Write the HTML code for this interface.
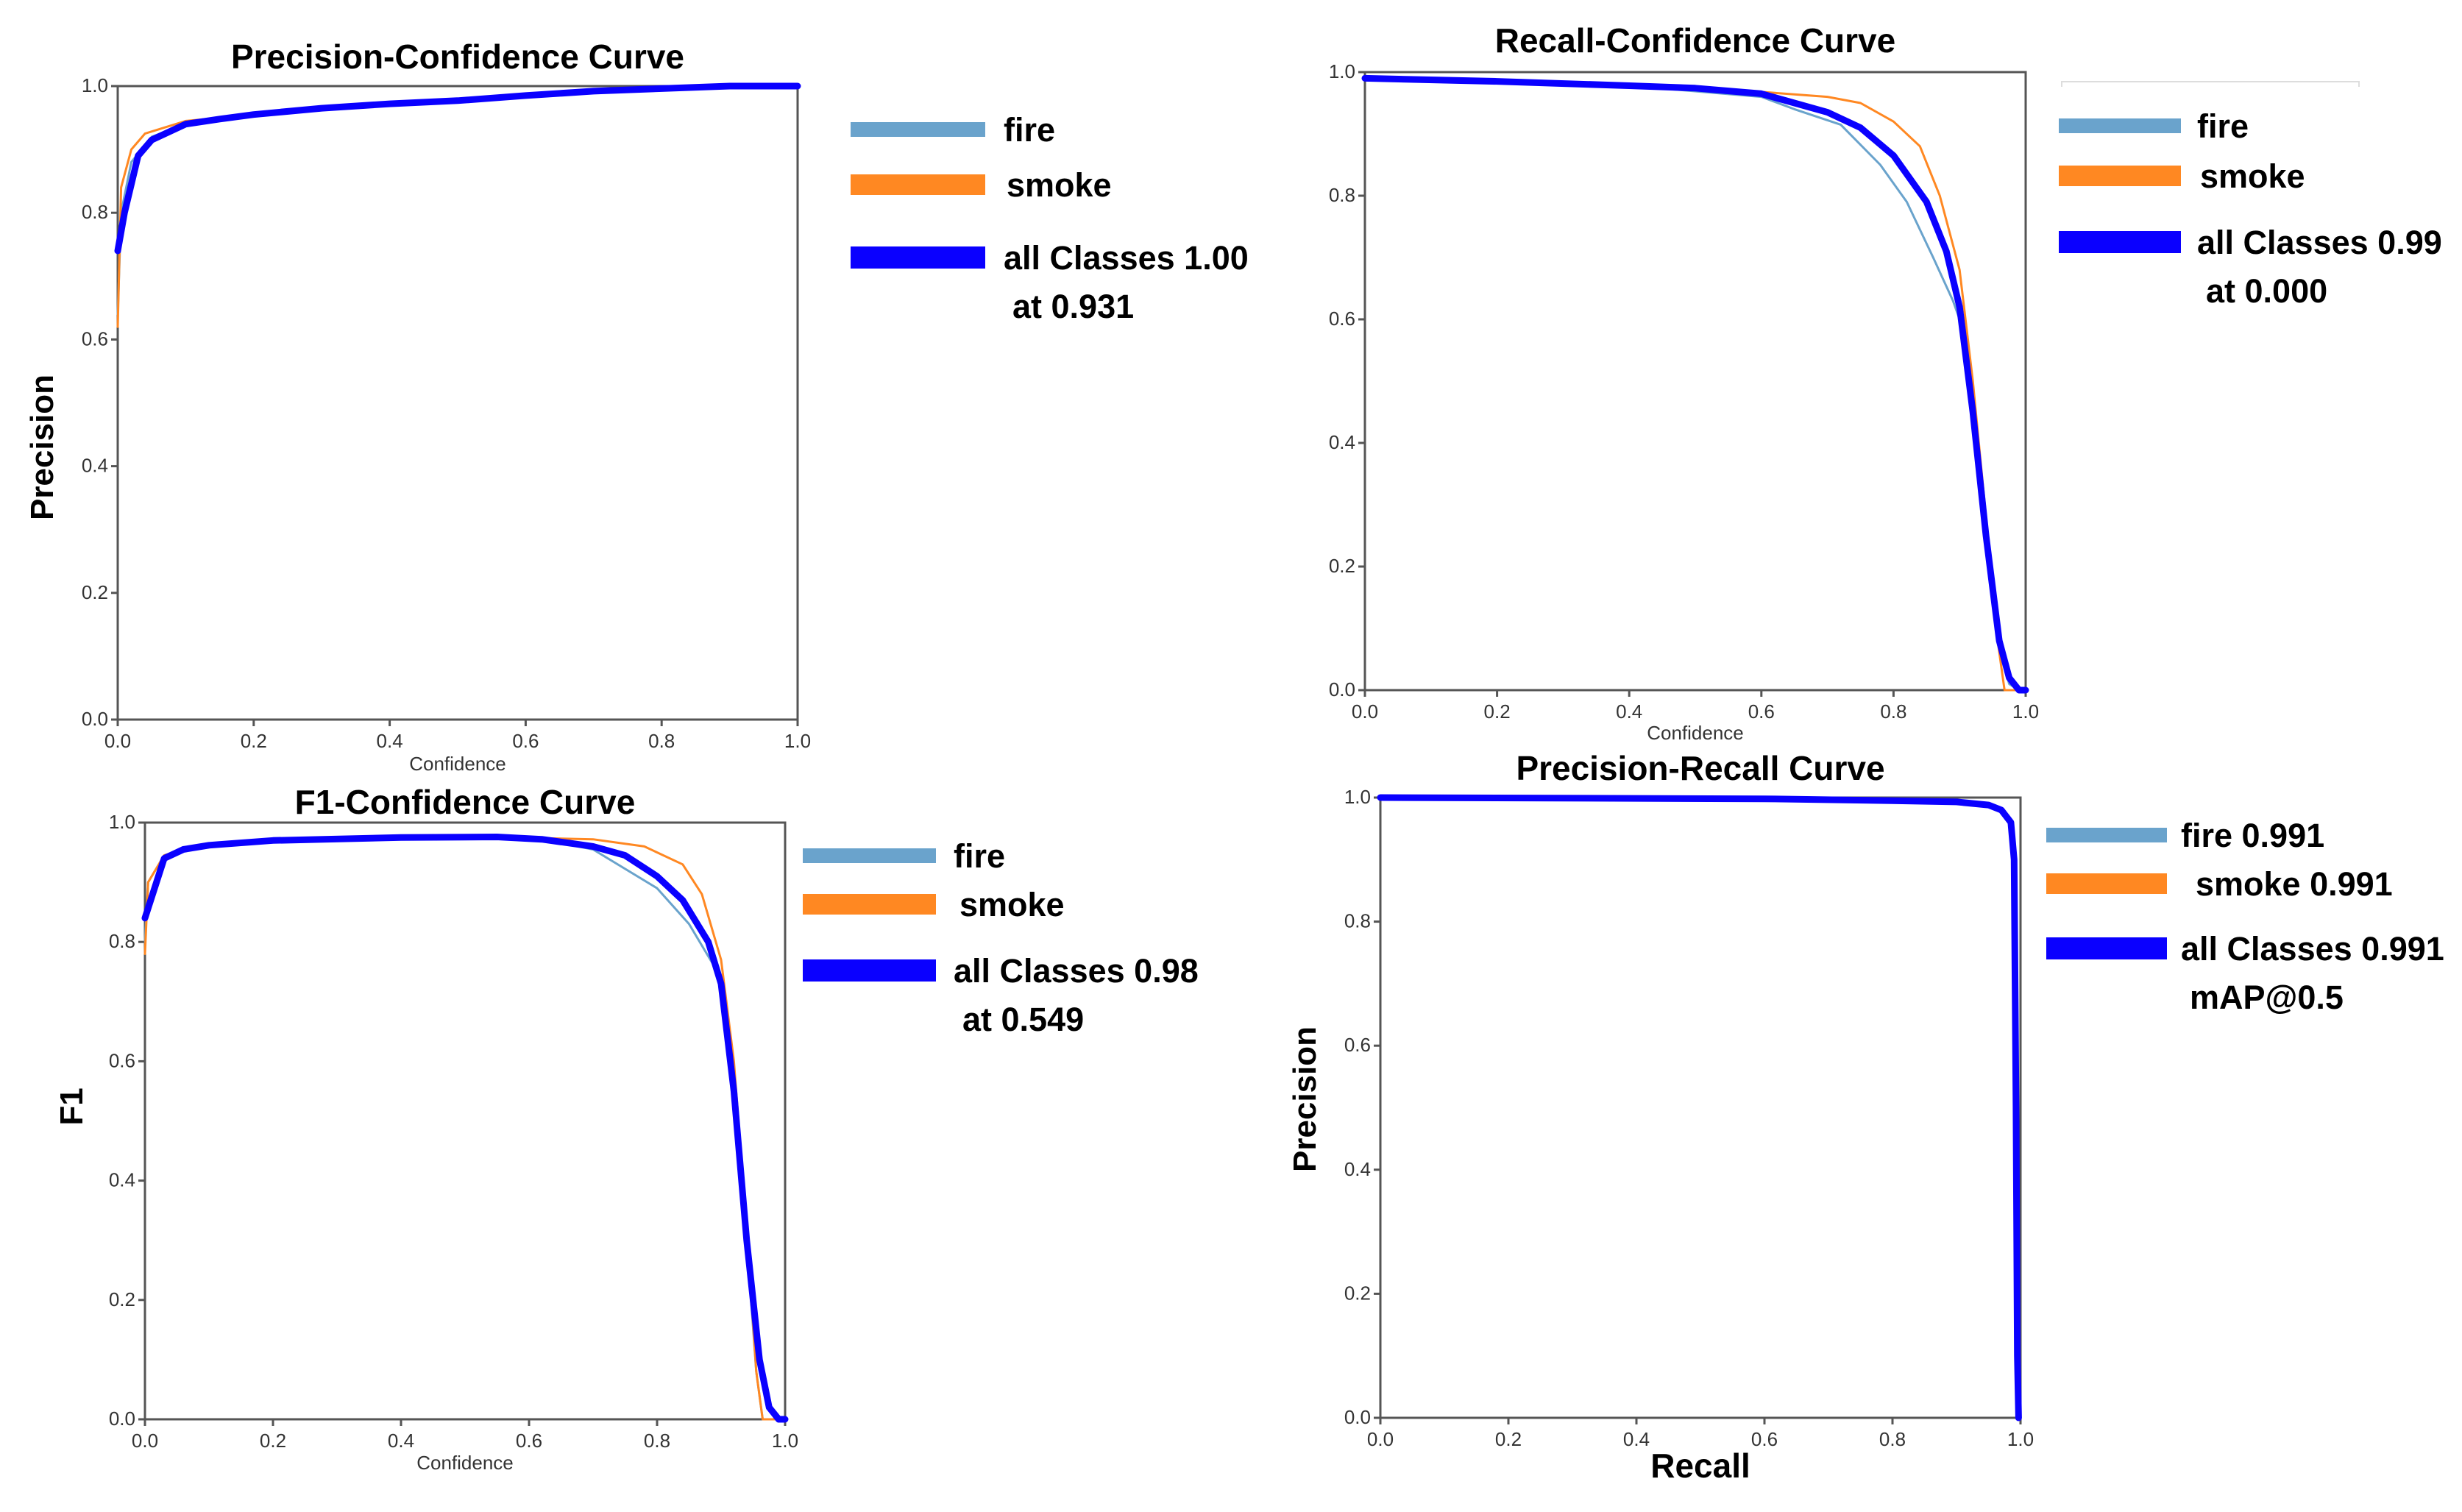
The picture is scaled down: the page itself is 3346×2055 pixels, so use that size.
<!DOCTYPE html>
<html><head><meta charset="utf-8"><style>
html,body{margin:0;padding:0;background:#fff;}
svg{display:block;}
text{font-family:"Liberation Sans Narrow","Liberation Sans",sans-serif;}
</style></head><body>
<svg id="root" width="3346" height="2055" viewBox="0 0 3346 2055" xmlns="http://www.w3.org/2000/svg"></svg>
<script>
// ---- data ----
const tickValues = [0, 0.2, 0.4, 0.6, 0.8, 1.0];
const tickLabels = ["0.0", "0.2", "0.4", "0.6", "0.8", "1.0"];

const pcFireX = [0, 0.005, 0.02, 0.05, 0.1, 0.15, 0.2, 0.3, 0.4, 0.5, 0.6, 0.7, 0.8, 0.9, 1.0];
const pcFireY = [0.64, 0.8, 0.88, 0.92, 0.94, 0.949, 0.955, 0.965, 0.972, 0.977, 0.985, 0.992, 0.996, 1.0, 1.0];
const pcSmokeX = [0, 0.005, 0.02, 0.04, 0.1, 0.15, 0.2, 0.3, 0.4, 0.5, 0.6, 0.7, 0.8, 0.9, 1.0];
const pcSmokeY = [0.62, 0.84, 0.9, 0.925, 0.945, 0.95, 0.956, 0.966, 0.972, 0.977, 0.985, 0.992, 0.996, 1.0, 1.0];
const pcAllX = [0, 0.01, 0.03, 0.05, 0.1, 0.15, 0.2, 0.3, 0.4, 0.5, 0.6, 0.7, 0.8, 0.9, 1.0];
const pcAllY = [0.74, 0.8, 0.89, 0.915, 0.94, 0.948, 0.955, 0.965, 0.972, 0.977, 0.985, 0.992, 0.996, 1.0, 1.0];

const rcFireX = [0, 0.2, 0.4, 0.6, 0.65, 0.72, 0.78, 0.82, 0.86, 0.89, 0.9, 0.92, 0.94, 0.96, 0.975, 0.99, 1.0];
const rcFireY = [0.99, 0.985, 0.978, 0.96, 0.94, 0.915, 0.85, 0.79, 0.7, 0.63, 0.6, 0.45, 0.25, 0.07, 0.01, 0, 0];
const rcSmokeX = [0, 0.2, 0.4, 0.6, 0.7, 0.75, 0.8, 0.84, 0.87, 0.9, 0.92, 0.94, 0.955, 0.968, 1.0];
const rcSmokeY = [0.99, 0.985, 0.978, 0.968, 0.96, 0.95, 0.92, 0.88, 0.8, 0.68, 0.5, 0.28, 0.1, 0, 0];
const rcAllX = [0, 0.2, 0.4, 0.5, 0.6, 0.7, 0.75, 0.8, 0.85, 0.88, 0.9, 0.92, 0.94, 0.96, 0.975, 0.99, 1.0];
const rcAllY = [0.99, 0.985, 0.978, 0.974, 0.965, 0.935, 0.91, 0.865, 0.79, 0.71, 0.62, 0.45, 0.25, 0.08, 0.02, 0, 0];

const f1FireX = [0, 0.005, 0.03, 0.06, 0.1, 0.2, 0.4, 0.55, 0.62, 0.7, 0.8, 0.85, 0.9, 0.92, 0.94, 0.955, 0.965, 1.0];
const f1FireY = [0.8, 0.9, 0.945, 0.955, 0.962, 0.97, 0.975, 0.976, 0.972, 0.955, 0.89, 0.83, 0.74, 0.57, 0.3, 0.08, 0, 0];
const f1SmokeX = [0, 0.005, 0.03, 0.06, 0.1, 0.2, 0.4, 0.55, 0.62, 0.7, 0.78, 0.84, 0.87, 0.9, 0.92, 0.94, 0.955, 0.965, 1.0];
const f1SmokeY = [0.78, 0.9, 0.945, 0.955, 0.962, 0.97, 0.975, 0.976, 0.974, 0.972, 0.96, 0.93, 0.88, 0.77, 0.6, 0.32, 0.08, 0, 0];
const f1AllX = [0, 0.03, 0.06, 0.1, 0.2, 0.4, 0.55, 0.62, 0.7, 0.75, 0.8, 0.84, 0.88, 0.9, 0.92, 0.94, 0.96, 0.975, 0.99, 1.0];
const f1AllY = [0.84, 0.94, 0.955, 0.962, 0.97, 0.975, 0.976, 0.972, 0.96, 0.945, 0.91, 0.87, 0.8, 0.73, 0.55, 0.3, 0.1, 0.02, 0, 0];

const prFireX = [0, 0.6, 0.8, 0.9, 0.95, 0.97, 0.985, 0.99, 0.993, 0.995, 0.997];
const prFireY = [1.0, 0.998, 0.995, 0.993, 0.988, 0.98, 0.96, 0.9, 0.5, 0.1, 0];
const prSmokeX = [0, 0.6, 0.8, 0.9, 0.95, 0.97, 0.985, 0.99, 0.993, 0.995, 0.997];
const prSmokeY = [1.0, 0.998, 0.995, 0.993, 0.988, 0.98, 0.96, 0.9, 0.5, 0.1, 0];
const prAllX = [0, 0.6, 0.8, 0.9, 0.95, 0.97, 0.985, 0.99, 0.993, 0.995, 0.997];
const prAllY = [1.0, 0.998, 0.995, 0.993, 0.988, 0.98, 0.96, 0.9, 0.5, 0.1, 0];

const NS = "http://www.w3.org/2000/svg";
const root = document.getElementById("root");
function mk(tag, attrs, parent, txt) {
  const e = document.createElementNS(NS, tag);
  for (const k in attrs) e.setAttribute(k, attrs[k]);
  if (txt !== undefined) e.textContent = txt;
  (parent || root).appendChild(e);
  return e;
}

function chart(cfg) {
  const g = mk("g", {});
  
  
  const L = cfg.x0, R = cfg.x1, T = cfg.y0, B = cfg.y1;
  const sx = v => L + v * (R - L);
  const sy = v => B - v * (B - T);
  const fr = mk("rect", {x: L, y: T, width: R - L, height: B - T, fill: "none", stroke: "#555", "stroke-width": 3}, g);
  
  
  tickValues.forEach((v, i) => {
    const tx = mk("line", {x1: sx(v), x2: sx(v), y1: B, y2: B + 9, stroke: "#555", "stroke-width": 3}, g);
    
    
    const tl = mk("text", {x: sx(v), y: B + 38, "font-size": 26, fill: "#333", "text-anchor": "middle"}, g, tickLabels[i]);
    
    
    const ty = mk("line", {x1: L - 9, x2: L, y1: sy(v), y2: sy(v), stroke: "#555", "stroke-width": 3}, g);
    
    
    const yl = mk("text", {x: L - 13, y: sy(v) + 8, "font-size": 26, fill: "#333", "text-anchor": "end"}, g, tickLabels[i]);
    
    
  });
  const ser = [
    {x: cfg.fx, y: cfg.fy, c: "#6aa3cc", w: 3, n: "fire-curve"},
    {x: cfg.smx, y: cfg.smy, c: "#ff8822", w: 3, n: "smoke-curve"},
    {x: cfg.ax, y: cfg.ay, c: "#0a00ff", w: 9, n: "all-classes-curve"}
  ];
  ser.forEach(s => {
    const d = s.x.map((xv, i) => (i ? "L" : "M") + sx(xv).toFixed(1) + "," + sy(s.y[i]).toFixed(1)).join(" ");
    const p = mk("path", {d: d, fill: "none", stroke: s.c, "stroke-width": s.w, "stroke-linejoin": "round", "stroke-linecap": "round"}, g);
    
    
  });
  const t = mk("text", {x: (L + R) / 2, y: cfg.titleY, "font-size": 46, "font-weight": "bold", fill: "#000", "text-anchor": "middle"}, g, cfg.title);
  
  
  const xl = mk("text", {x: (L + R) / 2, y: cfg.xlY, "font-size": cfg.xlSize, "font-weight": cfg.xlBold ? "bold" : "normal", fill: cfg.xlBold ? "#000" : "#333", "text-anchor": "middle"}, g, cfg.xlabel);
  
  
  if (cfg.ylabel) {
    const yl = mk("text", {x: 0, y: 0, "font-size": 44, "font-weight": "bold", fill: "#000", "text-anchor": "middle", transform: "translate(" + cfg.ylX + "," + cfg.ylY + ") rotate(-90)", style: "font-family:'Liberation Sans',sans-serif"}, g, cfg.ylabel);
    
    
  }
  const lg = mk("g", {}, g);
  
  
  const cols = ["#6aa3cc", "#ff8822", "#0a00ff"];
  const hs = [20, 28, 30];
  const names = ["legend-entry-fire", "legend-entry-smoke", "legend-entry-all-classes"];
  cfg.leg.forEach((e, i) => {
    const r = mk("rect", {x: cfg.lx0, y: e.y - hs[i] / 2, width: cfg.lx1 - cfg.lx0, height: hs[i], fill: cols[i]}, lg);
    
    
    const tx = mk("text", {x: cfg.tx + (e.dx || 0), y: e.y + 16, "font-size": 45, "font-weight": "bold", fill: "#000"}, lg, e.t);
    
    
    if (e.t2) {
      const t2 = mk("text", {x: cfg.tx + (e.dx2 || 0), y: e.y + 16 + 66, "font-size": 45, "font-weight": "bold", fill: "#000"}, lg, e.t2);
      
      
    }
  });
}

chart({name: "precision-confidence-chart", x0: 160, x1: 1084, y0: 117, y1: 978,
  fx: pcFireX, fy: pcFireY, smx: pcSmokeX, smy: pcSmokeY, ax: pcAllX, ay: pcAllY,
  title: "Precision-Confidence Curve", titleY: 93, xlabel: "Confidence", xlY: 1047, xlSize: 26,
  ylabel: "Precision", ylX: 72, ylY: 608,
  lx0: 1156, lx1: 1339, tx: 1364,
  leg: [{y: 176, t: "fire"}, {y: 251, t: "smoke", dx: 4}, {y: 350, t: "all Classes 1.00", t2: "at 0.931", dx2: 12}]});

chart({name: "recall-confidence-chart", x0: 1855, x1: 2753, y0: 98, y1: 938,
  fx: rcFireX, fy: rcFireY, smx: rcSmokeX, smy: rcSmokeY, ax: rcAllX, ay: rcAllY,
  title: "Recall-Confidence Curve", titleY: 71, xlabel: "Confidence", xlY: 1005, xlSize: 26,
  lx0: 2798, lx1: 2964, tx: 2986,
  leg: [{y: 171, t: "fire"}, {y: 239, t: "smoke", dx: 4}, {y: 329, t: "all Classes 0.99", t2: "at 0.000", dx2: 12}]});

chart({name: "f1-confidence-chart", x0: 197, x1: 1067, y0: 1118, y1: 1929,
  fx: f1FireX, fy: f1FireY, smx: f1SmokeX, smy: f1SmokeY, ax: f1AllX, ay: f1AllY,
  title: "F1-Confidence Curve", titleY: 1106, xlabel: "Confidence", xlY: 1997, xlSize: 26,
  ylabel: "F1", ylX: 112, ylY: 1504,
  lx0: 1091, lx1: 1272, tx: 1296,
  leg: [{y: 1163, t: "fire"}, {y: 1229, t: "smoke", dx: 8}, {y: 1319, t: "all Classes 0.98", t2: "at 0.549", dx2: 12}]});

chart({name: "precision-recall-chart", x0: 1876, x1: 2746, y0: 1084, y1: 1927,
  fx: prFireX, fy: prFireY, smx: prSmokeX, smy: prSmokeY, ax: prAllX, ay: prAllY,
  title: "Precision-Recall Curve", titleY: 1060, xlabel: "Recall", xlY: 2008, xlSize: 46, xlBold: true,
  ylabel: "Precision", ylX: 1788, ylY: 1494,
  lx0: 2781, lx1: 2945, tx: 2964,
  leg: [{y: 1135, t: "fire 0.991"}, {y: 1201, t: "smoke 0.991", dx: 20}, {y: 1289, t: "all Classes 0.991", t2: "mAP@0.5", dx2: 12}]});

const box = mk("path", {d: "M2802,118 L2802,111 L3206,111 L3206,118", fill: "none", stroke: "#ddd", "stroke-width": 2});


</script>
</body></html>
